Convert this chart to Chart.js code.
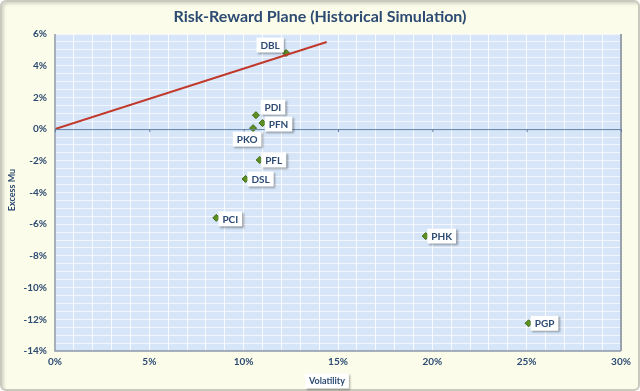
<!DOCTYPE html>
<html>
<head>
<meta charset="utf-8">
<script src="https://cdn.jsdelivr.net/npm/chart.js@4/dist/chart.umd.min.js"></script>
<style>
  html, body { margin: 0; padding: 0; background: #fff; }
  .frame {
    position: absolute; left: 0; top: 0; width: 636px; height: 387px;
    background: #fbfcea; border: 2px solid #c9c9bd; border-radius: 6px;
    box-shadow: inset 2px 2px 3px rgba(0,0,0,0.15);
  }
  #wrap { position: absolute; left: 0; top: 0; width: 640px; height: 391px; }
</style>
</head>
<body>
<div class="frame"></div>
<div id="wrap"><canvas id="myChart" width="640" height="391"></canvas></div>
<script>
const tickers = ['DBL', 'PDI', 'PFN', 'PKO', 'PFL', 'DSL', 'PCI', 'PHK', 'PGP'];
const volatility = [12.25, 10.65, 11.0, 10.5, 10.85, 10.1, 8.55, 19.65, 25.1];
const excessMu = [4.8, 0.88, 0.38, 0.06, -1.95, -3.15, -5.6, -6.75, -12.25];
const lineX = [0, 14.4];
const lineY = [0, 5.5];
const xTicks = [0, 5, 10, 15, 20, 25, 30];
const yTicks = [6, 4, 2, 0, -2, -4, -6, -8, -10, -12, -14];

// where each label box sits relative to its point (dx, dy in px)
const labelOffset = {
  DBL: [-16, -8], PDI: [17, -8], PFN: [16, 1], PKO: [-6, 11], PFL: [14, 0],
  DSL: [15, 0], PCI: [14, 1], PHK: [16, 0], PGP: [16, 0]
};

const navy = '#2c4a72';
const fam = 'Lato, "Open Sans", sans-serif';

const boxLabel = (ctx, text, cx, cy, font) => {
  ctx.save();
  ctx.font = font;
  const w = ctx.measureText(text).width + 8;
  const h = 15;
  ctx.shadowColor = 'rgba(0,0,0,0.35)';
  ctx.shadowOffsetX = 1.5;
  ctx.shadowOffsetY = 1.5;
  ctx.shadowBlur = 2;
  ctx.fillStyle = '#ffffff';
  ctx.fillRect(cx - w / 2, cy - h / 2, w, h);
  ctx.shadowColor = 'transparent';
  ctx.fillStyle = navy;
  ctx.textAlign = 'center';
  ctx.textBaseline = 'middle';
  ctx.fillText(text, cx, cy + 0.5);
  ctx.restore();
};

const decor = {
  id: 'decor',
  beforeDraw(chart) {
    const { ctx, chartArea: a } = chart;
    ctx.save();
    ctx.fillStyle = '#d6e5f8';
    ctx.fillRect(a.left, a.top, a.right - a.left, a.bottom - a.top);
    ctx.restore();
  },
  afterDatasetsDraw(chart) {
    const { ctx, chartArea: a, scales } = chart;
    ctx.save();
    // axis lines
    ctx.strokeStyle = '#8a97a8';
    ctx.lineWidth = 1.5;
    ctx.beginPath();
    ctx.moveTo(a.left, a.top); ctx.lineTo(a.left, a.bottom); ctx.lineTo(a.right, a.bottom);
    ctx.stroke();
    ctx.strokeStyle = '#9aa3ad';
    ctx.lineWidth = 2;
    ctx.beginPath();
    ctx.moveTo(a.right, a.top); ctx.lineTo(a.right, a.bottom);
    ctx.stroke();
    // zero line with ticks
    const y0 = scales.y.getPixelForValue(0);
    ctx.strokeStyle = '#5f7fa6';
    ctx.lineWidth = 1;
    ctx.beginPath();
    ctx.moveTo(a.left, y0 + 0.5); ctx.lineTo(a.right, y0 + 0.5);
    xTicks.forEach(v => {
      const x = scales.x.getPixelForValue(v);
      ctx.moveTo(x + 0.5, y0); ctx.lineTo(x + 0.5, y0 + 3);
    });
    ctx.stroke();
    ctx.restore();
  },
  afterDraw(chart) {
    const { ctx } = chart;
    const meta = chart.getDatasetMeta(1);
    meta.data.forEach((pt, i) => {
      const off = labelOffset[tickers[i]];
      boxLabel(ctx, tickers[i], pt.x + off[0], pt.y + off[1], 'bold 10px ' + fam);
    });
    ctx.save();
    ctx.fillStyle = navy;
    ctx.font = 'bold 16px ' + fam;
    ctx.textAlign = 'center';
    ctx.textBaseline = 'middle';
    ctx.fillText('Risk-Reward Plane (Historical Simulation)', 320, 17);
    ctx.font = 'bold 9px ' + fam;
    ctx.translate(12, 190);
    ctx.rotate(-Math.PI / 2);
    ctx.fillText('Excess Mu', 0, 0);
    ctx.restore();
    boxLabel(ctx, 'Volatility', 327, 381, 'bold 9px ' + fam);
  }
};

new Chart(document.getElementById('myChart'), {
  type: 'scatter',
  data: {
    datasets: [
      {
        type: 'line',
        data: lineX.map((x, i) => ({ x, y: lineY[i] })),
        borderColor: '#c0392b',
        borderWidth: 2,
        pointRadius: 0,
        fill: false
      },
      {
        data: volatility.map((x, i) => ({ x, y: excessMu[i] })),
        pointStyle: 'rectRot',
        pointRadius: 3.5,
        backgroundColor: '#5e8f22',
        borderColor: '#3f6a14',
        borderWidth: 1
      }
    ]
  },
  options: {
    responsive: false,
    animation: false,
    layout: { padding: { top: 34, right: 19, left: 0, bottom: 0 } },
    plugins: { legend: { display: false }, tooltip: { enabled: false } },
    scales: {
      x: {
        type: 'linear', min: 0, max: 30,
        afterFit: (s) => { s.height = 40; },
        ticks: {
          stepSize: 1, autoSkip: false, maxRotation: 0, padding: 5,
          color: navy, font: { size: 10, weight: 'bold', family: 'Lato' },
          callback: (v) => xTicks.includes(v) ? v + '%' : ''
        },
        grid: { color: 'rgba(255,255,255,0.8)', lineWidth: 1, drawTicks: false },
        border: { display: false }
      },
      y: {
        type: 'linear', min: -14, max: 6,
        afterFit: (s) => { s.width = 55; },
        ticks: {
          stepSize: 0.5, autoSkip: false, padding: 8,
          color: navy, font: { size: 10, weight: 'bold', family: 'Lato' },
          callback: (v) => yTicks.includes(v) ? v + '%' : ''
        },
        grid: { color: 'rgba(255,255,255,0.7)', lineWidth: 1, drawTicks: false },
        border: { display: false }
      }
    }
  },
  plugins: [decor]
});
</script>
</body>
</html>
